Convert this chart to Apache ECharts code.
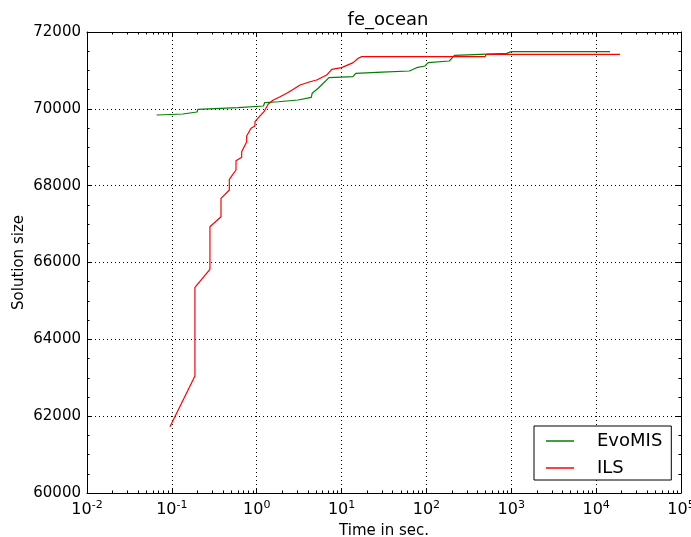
<!DOCTYPE html>
<html><head><meta charset="utf-8">
<script src="https://cdn.jsdelivr.net/npm/echarts@6/dist/echarts.min.js"></script>
<style>html,body{margin:0;padding:0;background:#fff}#c{width:691px;height:537px}</style>
</head><body><div id="c"></div>
<script>
const title = 'fe_ocean';
const xName = 'Time in sec.';
const yName = 'Solution size';
const seriesNames = ['EvoMIS', 'ILS'];
const evoT = [0.066,0.135,0.137,0.198,0.202,0.6,1.2,1.24,1.8,3.06,4.4,4.5,5.3,7.1,13.6,14.7,30,62.8,76.7,96,105,186,214,881,1000,14550];
const evoV = [69839,69866,69900,69918,69988,70030,70074,70160,70185,70230,70300,70404,70535,70811,70837,70925,70955,70985,71071,71115,71202,71245,71393,71445,71488,71488];
const ilsT = [0.095,0.187,0.187,0.281,0.281,0.3795,0.3795,0.4754,0.4754,0.570,0.570,0.665,0.665,0.762,0.762,0.856,0.954,0.954,1.073,1.218,1.369,1.568,1.881,2.256,2.70,3.24,4.25,5.09,6.68,7.65,10.0,13.7,15.7,17.3,490,510,19100];
const ilsV = [61726,63046,65354,65824,66932,67192,67671,67887,68166,68408,68650,68739,68884,69145,69293,69493,69553,69665,69796,69926,70126,70230,70316,70404,70508,70620,70706,70750,70880,71029,71072,71202,71316,71358,71358,71420,71420];

const F = 'DejaVu Sans';
const chart = echarts.init(document.getElementById('c'));
const pair = (t, v) => t.map((x, i) => [x, v[i]]);
const xCommon = {
  type: 'log', logBase: 10, min: 0.01, max: 100000,
  axisLine: {show: true, onZero: false, lineStyle: {color: '#000', width: 1}},
  axisTick: {show: true, inside: true, length: 5, lineStyle: {color: '#000'}},
  minorTick: {show: true, splitNumber: 9, length: 2.5, lineStyle: {color: '#000'}},
};
const yCommon = {
  type: 'value', min: 60000, max: 72000, interval: 2000,
  axisLine: {show: true, onZero: false, lineStyle: {color: '#000', width: 1}},
  axisTick: {show: true, inside: true, length: 5, lineStyle: {color: '#000'}},
  minorTick: {show: true, splitNumber: 4, length: 2.5, lineStyle: {color: '#000'}},
};
chart.setOption({
  animation: false,
  backgroundColor: '#fff',
  title: {text: title, left: 383, top: 6, textAlign: 'center',
    textStyle: {fontFamily: F, fontSize: 18, fontWeight: 'normal', color: '#000'}},
  grid: {left: 87, right: 10, top: 32, bottom: 44, outerBoundsMode: 'none', containLabel: false},
  legend: {
    orient: 'vertical', left: 534, top: 426,
    icon: 'rect', itemWidth: 28, itemHeight: 1.5, itemGap: 7,
    padding: [5, 9, 2, 12],
    borderColor: '#000', borderWidth: 1, backgroundColor: '#fff', borderRadius: 0,
    textStyle: {fontFamily: F, fontSize: 18, color: '#000', lineHeight: 20, padding: [0,0,0,18]},
    data: seriesNames
  },
  xAxis: [
    Object.assign({}, xCommon, {
      position: 'bottom',
      name: xName, nameLocation: 'middle', nameGap: 31, nameMoveOverlap: false,
      nameTextStyle: {fontFamily: F, fontSize: 15, color: '#000'},
      axisLabel: {margin: 7, color: '#000',
        formatter: v => '{b|10}{s|' + Math.round(Math.log10(v)) + '}',
        rich: {b: {fontFamily: F, fontSize: 16, color: '#000', verticalAlign: 'bottom'},
               s: {fontFamily: F, fontSize: 11, color: '#000', verticalAlign: 'bottom', padding: [0,0,7,0]}}},
      splitLine: {show: true, lineStyle: {color: '#000', type: [1, 3], width: 1}}
    }),
    Object.assign({}, xCommon, {position: 'top', axisLabel: {show: false}, splitLine: {show: false}})
  ],
  yAxis: [
    Object.assign({}, yCommon, {
      position: 'left',
      name: yName, nameLocation: 'middle', nameGap: 60, nameMoveOverlap: false,
      nameTextStyle: {fontFamily: F, fontSize: 15, color: '#000'},
      axisLabel: {margin: 6, fontFamily: F, fontSize: 15, color: '#000', formatter: v => String(v)},
      splitLine: {show: true, lineStyle: {color: '#000', type: [1, 3], width: 1}}
    }),
    Object.assign({}, yCommon, {position: 'right', axisLabel: {show: false}, splitLine: {show: false}})
  ],
  series: [
    {name: seriesNames[0], type: 'line', data: pair(evoT, evoV), showSymbol: false, symbol: 'none',
     lineStyle: {color: '#008000', width: 1.2}, itemStyle: {color: '#008000'}},
    {name: seriesNames[1], type: 'line', data: pair(ilsT, ilsV), showSymbol: false, symbol: 'none',
     lineStyle: {color: '#ff0000', width: 1.2}, itemStyle: {color: '#ff0000'}}
  ]
});
</script></body></html>
